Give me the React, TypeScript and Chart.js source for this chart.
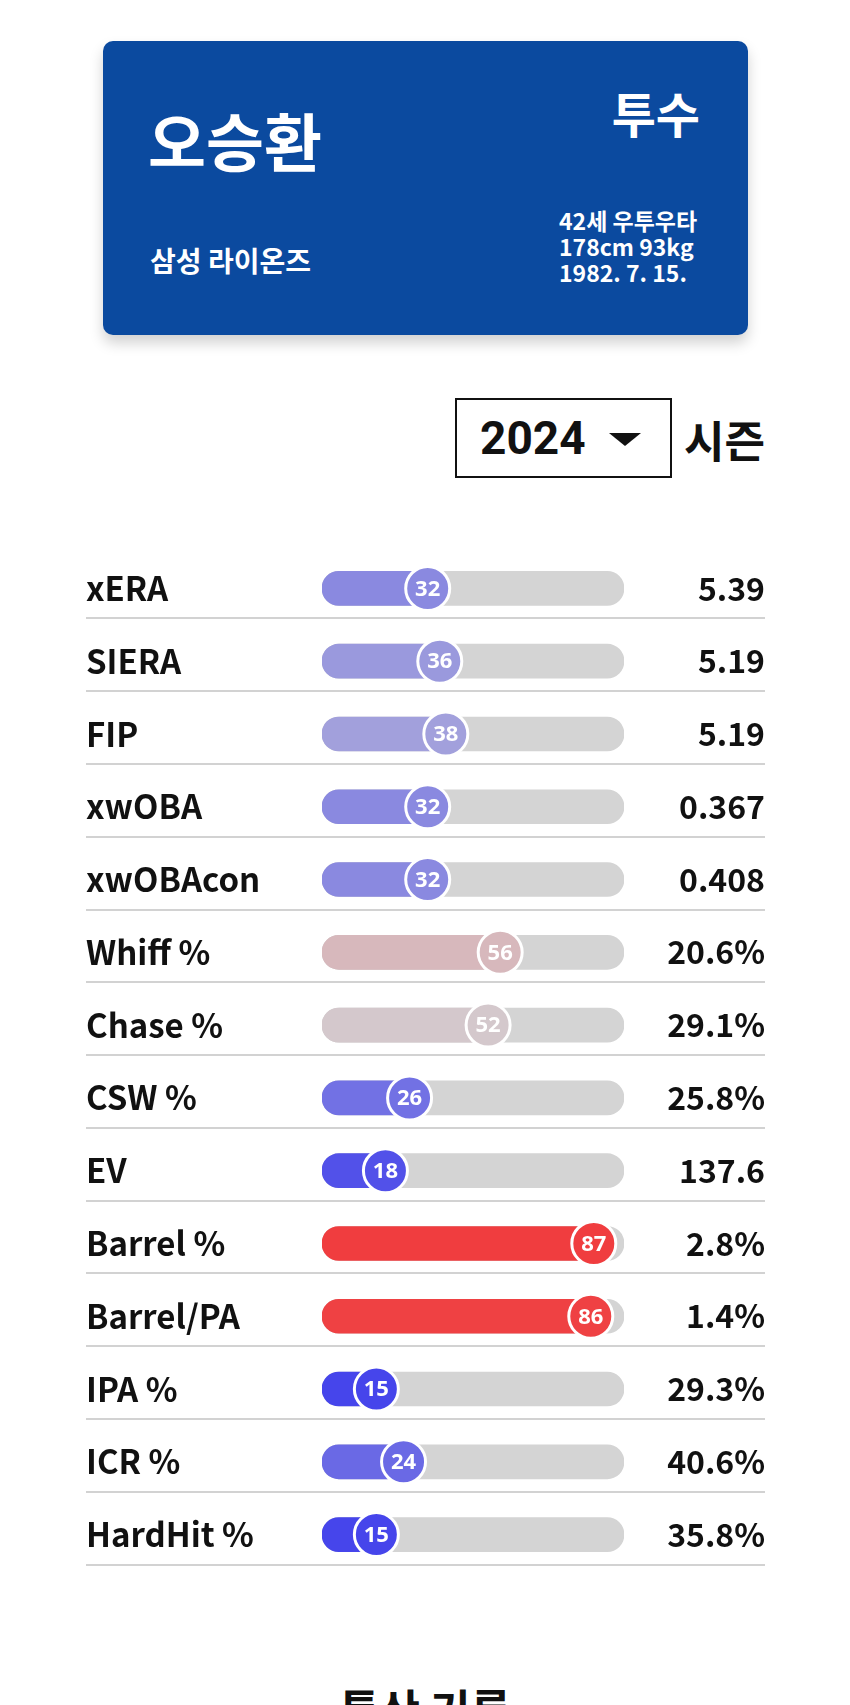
import React, { useEffect, useRef } from "react";
import { Chart, registerables } from "chart.js";

Chart.register(...registerables);

const LABELS = ["xERA", "SIERA", "FIP", "xwOBA", "xwOBAcon", "Whiff %", "Chase %", "CSW %", "EV", "Barrel %", "Barrel/PA", "IPA %", "ICR %", "HardHit %"];
const PERCENTILES = [32, 36, 38, 32, 32, 56, 52, 26, 18, 87, 86, 15, 24, 15];
const STAT_VALUES = ["5.39", "5.19", "5.19", "0.367", "0.408", "20.6%", "29.1%", "25.8%", "137.6", "2.8%", "1.4%", "29.3%", "40.6%", "35.8%"];

const PLAYER_NAME = "오승환";
const POSITION = "투수";
const TEAM = "삼성 라이온즈";
const INFO_LINES = ["42세 우투우타", "178cm 93kg", "1982. 7. 15."];
const SEASON = "2024";

const TRACK_MIN = -3;
const TRACK_MAX = 97;

const FONT = "'Noto Sans CJK KR', 'Noto Sans', sans-serif";

function pctColor(v: number): string {
  const lo = [10, 10, 245];
  const mid = [210, 208, 212];
  const hi = [250, 10, 10];
  let a: number[], b: number[], t: number;
  if (v <= 50) { a = lo; b = mid; t = v / 50; } else { a = mid; b = hi; t = (v - 50) / 50; }
  const c = a.map((x, i) => Math.round(x + (b[i] - x) * t));
  return `rgb(${c[0]},${c[1]},${c[2]})`;
}

const separatorPlugin = {
  id: "separators",
  beforeDatasetsDraw(chart: any) {
    const { ctx, scales } = chart;
    const y = scales.y;
    ctx.save();
    ctx.strokeStyle = "#d2d2d2";
    ctx.lineWidth = 2;
    for (let i = 0; i < LABELS.length; i++) {
      const py = Math.round(y.getPixelForValue(i) + 30);
      ctx.beginPath();
      ctx.moveTo(0, py);
      ctx.lineTo(chart.width, py);
      ctx.stroke();
    }
    ctx.restore();
  },
  afterDatasetsDraw(chart: any) {
    const { ctx } = chart;
    const meta = chart.getDatasetMeta(2);
    ctx.save();
    ctx.fillStyle = "#ffffff";
    ctx.font = `bold 22px 'Noto Sans', sans-serif`;
    ctx.textAlign = "center";
    ctx.textBaseline = "middle";
    meta.data.forEach((el: any, i: number) => {
      ctx.fillText(String(PERCENTILES[i]), el.x, el.y + 1);
    });
    ctx.restore();
  },
};

function PercentileChart() {
  const ref = useRef<HTMLCanvasElement | null>(null);
  useEffect(() => {
    if (!ref.current) return;
    const colors = PERCENTILES.map(pctColor);
    const chart = new Chart(ref.current, {
      type: "bar",
      data: {
        labels: LABELS,
        datasets: [
          {
            data: LABELS.map(() => [TRACK_MIN, TRACK_MAX]) as any,
            backgroundColor: "#d4d4d4",
            borderRadius: 17,
            borderSkipped: false,
            barThickness: 34,
            grouped: false,
            order: 3,
          } as any,
          {
            data: PERCENTILES.map((v) => [TRACK_MIN, v]) as any,
            backgroundColor: colors,
            borderRadius: 17,
            borderSkipped: false,
            barThickness: 34,
            grouped: false,
            order: 2,
          } as any,
          {
            type: "line",
            indexAxis: "y",
            data: PERCENTILES.map((v, i) => ({ x: v, y: LABELS[i] })) as any,
            showLine: false,
            pointRadius: 22,
            pointHoverRadius: 22,
            pointBorderWidth: 3,
            pointBorderColor: "#ffffff",
            pointBackgroundColor: colors,
            order: 1,
          } as any,
        ],
      },
      options: {
        indexAxis: "y",
        responsive: false,
        animation: false,
        events: [],
        layout: { padding: { top: 9.5, bottom: 7.5, left: 0, right: 0 } },
        plugins: { legend: { display: false }, tooltip: { enabled: false } },
        scales: {
          x: { type: "linear", min: TRACK_MIN, max: TRACK_MAX, display: false },
          y: {
            type: "category",
            position: "left",
            offset: true,
            grid: { display: false },
            border: { display: false },
            ticks: {
              crossAlign: "far",
              padding: 0,
              color: "#111111",
              font: { family: FONT, size: 33, weight: "bold" },
            },
            afterFit: (s: any) => { s.width = 236; },
          },
          y2: {
            type: "category",
            position: "right",
            labels: STAT_VALUES,
            offset: true,
            grid: { display: false },
            border: { display: false },
            ticks: {
              crossAlign: "far",
              padding: 0,
              color: "#111111",
              font: { family: FONT, size: 32, weight: "bold" },
            },
            afterFit: (s: any) => { s.width = 141; },
          },
        },
      } as any,
      plugins: [separatorPlugin],
    });
    return () => chart.destroy();
  }, []);
  return (
    <canvas
      ref={ref}
      width={679}
      height={1069}
      style={{ position: "absolute", left: 86, top: 527, width: 679, height: 1069 }}
    />
  );
}

export default function App() {
  const white = "#ffffff";
  return (
    <div style={{ position: "absolute", left: 0, top: 0, width: 850, height: 1705, background: "#fff", overflow: "hidden", fontFamily: FONT }}>
      <div
        style={{
          position: "absolute", left: 103, top: 41, width: 645, height: 294,
          background: "#0b4a9f", borderRadius: 10, boxShadow: "0 8px 14px rgba(0,0,0,0.18)",
        }}
      />
      <div style={{ position: "absolute", left: 148, top: 99, fontSize: 63, fontWeight: 700, color: white, lineHeight: "80px" }}>{PLAYER_NAME}</div>
      <div style={{ position: "absolute", right: 150, top: 82, fontSize: 48, fontWeight: 700, color: white, lineHeight: "60px" }}>{POSITION}</div>
      <div style={{ position: "absolute", left: 150, top: 242, fontSize: 28, fontWeight: 700, color: white, lineHeight: "36px" }}>{TEAM}</div>
      <div style={{ position: "absolute", left: 559, top: 207, fontSize: 23, fontWeight: 700, color: white, lineHeight: "26px" }}>
        {INFO_LINES.map((l) => (<div key={l}>{l}</div>))}
      </div>

      <div style={{ position: "absolute", left: 455, top: 398, width: 213, height: 76, border: "2px solid #111", background: "#fff" }} />
      <div style={{ position: "absolute", left: 480, top: 408, fontFamily: "Roboto, 'Noto Sans', sans-serif", fontSize: 46, fontWeight: 700, color: "#111", lineHeight: "60px" }}>{SEASON}</div>
      <div style={{ position: "absolute", left: 609, top: 433, width: 0, height: 0, borderLeft: "16px solid transparent", borderRight: "16px solid transparent", borderTop: "13px solid #111" }} />
      <div style={{ position: "absolute", left: 684, top: 404, fontSize: 44, fontWeight: 700, color: "#111", lineHeight: "70px" }}>시즌</div>

      <PercentileChart />

      <div style={{ position: "absolute", left: 0, width: 850, top: 1676, textAlign: "center", fontSize: 44, fontWeight: 700, color: "#111", lineHeight: "64px" }}>통산 기록</div>
    </div>
  );
}
